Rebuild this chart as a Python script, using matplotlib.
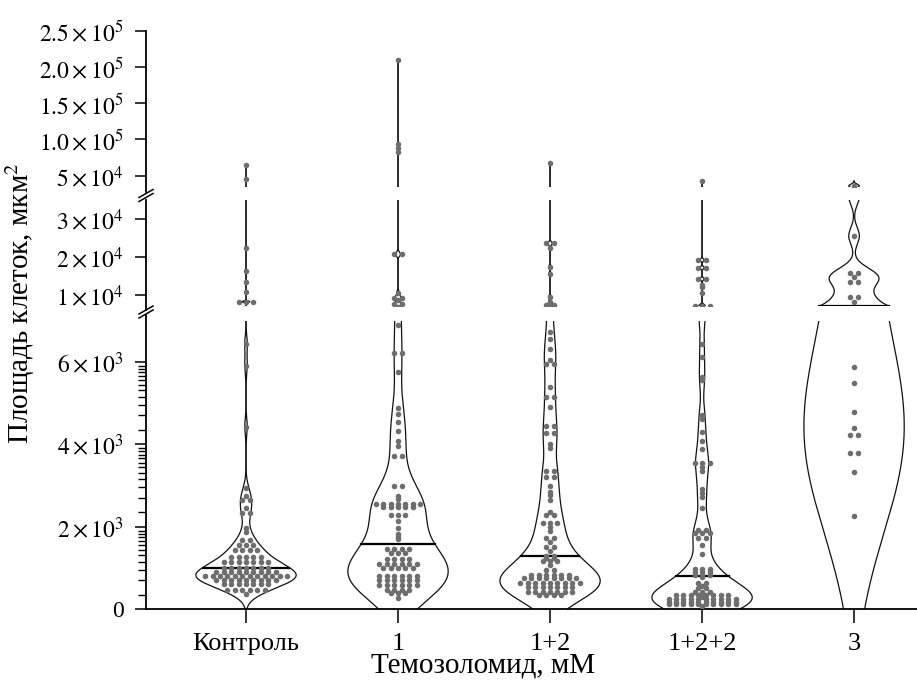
import numpy as np
import matplotlib.pyplot as plt
from matplotlib.lines import Line2D

plt.rcParams['font.family'] = 'Liberation Serif'
plt.rcParams['mathtext.fontset'] = 'stix'

# Datos (площадь клеток, мкм^2)
grupos = ['Контроль', '1', '1+2', '1+2+2', '3']

kontrol = [364, 468, 468, 468, 468, 468, 468,
           613, 613, 613, 613, 613, 613, 613,
           710, 710, 710, 710, 710, 710, 710, 710, 710,
           815, 815, 815, 815, 815, 815, 815, 815, 815, 815, 815, 815,
           912, 912, 912, 912, 912, 912, 912, 912, 912,
           1010, 1010, 1010, 1010, 1010, 1010, 1010,
           1154, 1154, 1154, 1154, 1154, 1154, 1154,
           1272, 1272, 1272, 1272, 1272,
           1430, 1430, 1430, 1430, 1550, 1550, 1550, 1690, 1690,
           1870, 1960, 2327, 2327, 2450, 2650, 2650, 2740, 2940,
           4420, 5900, 6430,
           8230, 8230, 8230, 10700, 13430, 16400, 22480,
           45450, 65150]

tmz_1 = [267, 388, 388, 388, 468, 468, 468, 468,
         590, 590, 590, 590, 590, 590, 711, 711, 711, 711, 711, 711,
         808, 808, 808, 808, 808, 808, 994, 994, 994, 994, 994,
         1090, 1090, 1090, 1090, 1090, 1090, 1212, 1212, 1212, 1212,
         1357, 1357, 1357, 1454, 1454, 1454, 1454,
         1697, 1745, 1817, 1978, 2140, 2286, 2286, 2286,
         2472, 2472, 2472, 2472, 2472, 2552, 2552, 2552, 2552, 2552, 2552, 2552,
         2676, 2750, 2989, 2989, 3716, 3716, 3964, 4068, 4327, 4534, 4735, 4872,
         5745, 6205, 6205, 6900,
         7620, 7620, 8680, 9290, 9290, 10600, 20740, 20740,
         82230, 87740, 93660, 209400]

tmz_12 = [348, 348, 348, 348, 428, 428, 428, 428, 428, 428, 428,
          533, 533, 533, 533, 533, 533, 533,
          630, 630, 630, 630, 630, 630, 630, 630, 630,
          751, 751, 751, 751, 751, 751, 751, 751,
          832, 832, 832, 832, 832, 832, 953, 953, 1075,
          1180, 1180, 1180, 1236, 1236, 1300, 1300, 1422, 1519, 1519, 1640,
          1721, 1721, 1899, 2004, 2101, 2101, 2101, 2287, 2287, 2368,
          2651, 2771, 2852, 2998, 3200, 3200, 3361, 3361, 3902, 3999,
          4266, 4266, 4444, 4444, 4912, 5155, 5155, 5397,
          5951, 5951, 6032, 6307, 6540, 6729,
          7360, 7360, 8230, 9550, 15540, 17470, 22320, 23640, 23640,
          67080]

tmz_122 = [81, 121, 121, 121, 121, 121, 121, 121, 121, 121, 121,
           186, 186, 186, 186, 186, 186, 186, 186, 186, 186,
           251, 251, 251, 251, 251, 251, 251, 251, 251, 251,
           307, 348, 348, 348, 348, 348, 348, 348, 348,
           428, 428, 428, 509, 509, 566, 630, 630, 776,
           824, 824, 824, 913, 913, 913, 969, 969, 969,
           1341, 1559, 1721, 1721, 1842, 1842, 1842, 1922, 1922,
           2463, 2730, 2811, 2908, 3361, 3458, 3539, 3539, 3539,
           3878, 4080, 4307, 4605, 4710, 5560, 5624, 6109, 6423,
           7180, 7180, 7180, 10450, 12030, 12640, 14220, 14220,
           17200, 17200, 19230, 19230,
           42700]

tmz_3 = [2260, 3335, 3796, 3796, 4224, 4224, 4402, 4774, 5493, 5881,
         8230, 9550, 9550, 13500, 13500, 14670, 15730, 15730, 25570,
         36000]

datos = [kontrol, tmz_1, tmz_12, tmz_122, tmz_3]
ventanas = [200, 540, 400, 330, 2200]   # ancho del nucleo (bandwidth) de cada violin

W, H = 917, 682
fig = plt.figure(figsize=(W / 100, H / 100), dpi=100)


def caja(y_arriba, y_abajo):
    # rectangulo de ejes a partir de filas de pixeles
    return [146 / W, 1 - y_abajo / H, (W - 146) / W, (y_abajo - y_arriba) / H]


ax_top = fig.add_axes(caja(30.7, 186.6))
ax_mid = fig.add_axes(caja(200.25, 306.4))
ax_bot = fig.add_axes(caja(320.5, 609.3))
ejes = [ax_top, ax_mid, ax_bot]
ax_top.set_ylim(35000, 250000)
ax_mid.set_ylim(7000, 35000)
ax_bot.set_ylim(0, 7000)


def kde(vals, h, y):
    z = (y[:, None] - np.asarray(vals, float)[None, :]) / h
    return np.exp(-0.5 * z ** 2).sum(axis=1)


def desplazamientos(vals, paso=0.049):
    vals = np.asarray(vals)
    off = np.zeros(len(vals))
    for v in np.unique(vals):
        idx = np.where(vals == v)[0]
        n = len(idx)
        off[idx] = (np.arange(n) - (n - 1) / 2) * paso
    return off


for i, (vals, h) in enumerate(zip(datos, ventanas)):
    y = np.linspace(-3 * h, max(vals) + 3 * h, 20000)
    d = kde(vals, h, y)
    w = d / d.max() * 0.33
    med = np.median(vals)
    wm = np.interp(med, y, w)
    off = desplazamientos(vals)
    for ax in ejes:
        ax.plot(i - w, y, color='#111111', lw=0.9)
        ax.plot(i + w, y, color='#111111', lw=0.9)
        ax.plot([i - wm, i + wm], [med, med], color='k', lw=1.6)
        ax.scatter(i + off, vals, s=16, color='#6e6e6e', linewidths=0, zorder=3)

for ax in ejes:
    ax.set_xlim(-0.658, 4.414)
    for s in ['top', 'right', 'left', 'bottom']:
        ax.spines[s].set_visible(False)
    ax.tick_params(axis='y', direction='out', length=8, width=1.1, labelsize=17, pad=8)
    ax.tick_params(axis='x', bottom=False, labelbottom=False)

ax_top.set_yticks([5e4, 1e5, 1.5e5, 2e5, 2.5e5],
                  [r'$5\times10^{4}$', r'$1.0\times10^{5}$', r'$1.5\times10^{5}$',
                   r'$2.0\times10^{5}$', r'$2.5\times10^{5}$'])
ax_mid.set_yticks([1e4, 2e4, 3e4],
                  [r'$1\times10^{4}$', r'$2\times10^{4}$', r'$3\times10^{4}$'])
ax_bot.set_yticks([0, 2000, 4000, 6000],
                  ['0', r'$2\times10^{3}$', r'$4\times10^{3}$', r'$6\times10^{3}$'])
menores = [b + 2000 * np.log10(1.5 + 0.75 * k) for b in (0, 2000, 4000) for k in range(11)]
ax_bot.set_yticks(menores, minor=True)
ax_bot.tick_params(axis='y', which='minor', direction='out', length=6, width=1)

ax_bot.spines['bottom'].set_visible(True)
ax_bot.spines['bottom'].set_linewidth(1.3)
ax_bot.set_xticks(range(len(grupos)), grupos)
ax_bot.tick_params(axis='x', bottom=True, labelbottom=True, direction='out',
                   length=10, width=1.1, labelsize=19, pad=7)


def linea_px(xs, ys, lw=1.3):
    fig.add_artist(Line2D([x / W for x in xs], [1 - v / H for v in ys], color='k', lw=lw))


# eje y partido
linea_px([146, 146], [30.7, 191.7])
linea_px([146, 146], [200.25, 310])
linea_px([146, 146], [315, 609.3])
for yc in (195.5, 312):
    for dy in (-2, 2):
        linea_px([139, 153], [yc + dy + 4, yc + dy - 4], lw=1.1)

fig.text(483 / W, 1 - 666 / H, 'Темозоломид, мМ', ha='center', va='center', fontsize=21)
fig.text(20 / W, 1 - 303 / H, 'Площадь клеток, мкм$^2$', rotation=90,
         ha='center', va='center', fontsize=21)

fig.savefig('out.png', dpi=100)
